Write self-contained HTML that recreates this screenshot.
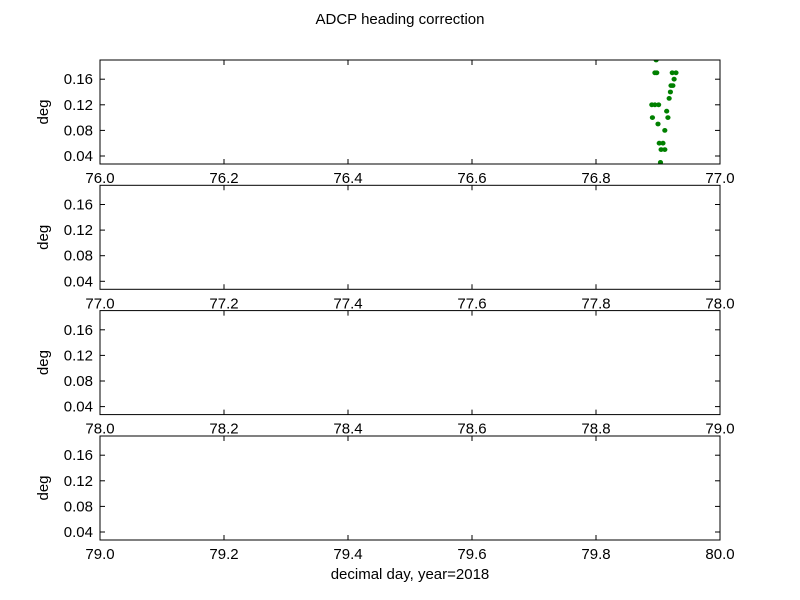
<!DOCTYPE html>
<html><head><meta charset="utf-8"><style>
body{margin:0;background:#fff;}
svg{display:block;font-family:"Liberation Sans","DejaVu Sans",sans-serif;}
</style></head><body>
<svg id="chart" width="800" height="600">
<rect width="800" height="600" fill="#fff"/>
<text x="400" y="24" text-anchor="middle" font-size="15">ADCP heading correction</text>
<text x="410" y="579" text-anchor="middle" font-size="15">decimal day, year=2018</text>
</svg>
<script>
const panelStarts = [76, 77, 78, 79];
const yTicks = [0.04, 0.08, 0.12, 0.16];
const yTickLabels = ["0.04", "0.08", "0.12", "0.16"];
const xTickOffsets = [0, 0.2, 0.4, 0.6, 0.8, 1.0];
const pointDays = [76.897,76.895,76.898,76.923,76.929,76.926,76.921,76.924,76.920,76.918,76.890,76.895,76.901,76.914,76.891,76.916,76.900,76.911,76.902,76.908,76.905,76.911,76.904];
const pointDeg = [0.19,0.17,0.17,0.17,0.17,0.16,0.15,0.15,0.14,0.13,0.12,0.12,0.12,0.11,0.10,0.10,0.09,0.08,0.06,0.06,0.05,0.05,0.03];
const yMin = 0.0275, yMax = 0.19;
const NS = "http://www.w3.org/2000/svg";
const svg = document.getElementById('chart');
const L = 100, R = 720, panelTops = [60, 185.3, 310.6, 436], H = 104;
function mk(tag, attrs, parent){const e=document.createElementNS(NS,tag);for(const k in attrs)e.setAttribute(k,attrs[k]);(parent||svg).appendChild(e);return e;}
panelStarts.forEach((x0,i)=>{
  const top = panelTops[i], bot = top+H;
  const g = mk('g',{});
  
  
  const xs = v => L + (v - x0) * (R - L);
  const ys = v => bot - (v - yMin) / (yMax - yMin) * H;
  const clipId='clip'+i;
  const cp=mk('clipPath',{id:clipId},g);
  mk('rect',{x:L,y:top,width:R-L,height:H},cp);
  const pg=mk('g',{'clip-path':'url(#'+clipId+')'},g);
  
  
  pointDays.forEach((d,j)=>{
    if(d<x0||d>x0+1) return;
    const p=mk('ellipse',{cx:xs(d),cy:ys(pointDeg[j]),rx:2.6,ry:2.4,fill:'#008000'},pg);
    
    
  });
  yTicks.forEach((t,j)=>{
    const y=ys(t);
    mk('line',{x1:L,x2:L+5,y1:y,y2:y,stroke:'#000'},g);
    mk('line',{x1:R-5,x2:R,y1:y,y2:y,stroke:'#000'},g);
    const tx=mk('text',{x:L-7,y:y+5,'text-anchor':'end','font-size':15},g);
    tx.textContent=yTickLabels[j];
    
    
  });
  xTickOffsets.forEach(o=>{
    const x=xs(x0+o);
    mk('line',{x1:x,x2:x,y1:bot,y2:bot-5,stroke:'#000'},g);
    mk('line',{x1:x,x2:x,y1:top,y2:top+5,stroke:'#000'},g);
    const tx=mk('text',{x:x,y:bot+19,'text-anchor':'middle','font-size':15},g);
    tx.textContent=(x0+o).toFixed(1);
    
    
  });
  const fr=mk('rect',{x:L,y:top,width:R-L,height:H,fill:'none',stroke:'#000','stroke-width':1},g);
  
  
  const yl=mk('text',{x:48,y:top+H/2,'text-anchor':'middle','font-size':15,transform:'rotate(-90 48 '+(top+H/2)+')'},g);
  yl.textContent='deg';
  
  
});
</script>
</body></html>
